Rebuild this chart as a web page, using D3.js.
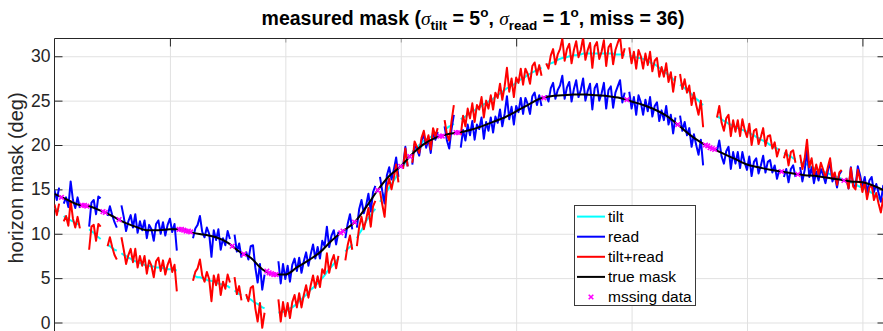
<!DOCTYPE html>
<html><head><meta charset="utf-8">
<script src="https://cdn.jsdelivr.net/npm/d3@7"></script>
<style>
html,body{margin:0;padding:0;background:#fff;}
svg{display:block;font-family:"Liberation Sans",Arial,Helvetica,sans-serif;}
</style></head><body>
<svg id="chart" width="883" height="331"></svg>
<script>
// ---------- data ----------
const azimuth = d3.range(0, 361);          // 1 deg steps
const trueAz = d3.range(0, 361, 5);        // true mask sampled every 5 deg
const trueVals = [14.5,13.9,13.3,13.1,12.6,12.0,11.3,10.8,10.4,10.4,10.5,10.5,10.1,9.9,9.6,9.0,8.0,7.3,6.0,5.4,
5.4,6.2,7.0,7.9,9.2,10.3,11.3,13.0,14.9,16.5,17.6,19.0,20.1,20.8,21.2,21.4,21.7,22.1,22.6,23.1,
23.8,24.5,25.2,25.5,25.6,25.7,25.7,25.6,25.5,25.3,24.9,24.5,24.0,23.3,22.3,21.2,20.3,19.6,19.0,18.4,
17.8,17.5,17.2,17.0,16.8,16.6,16.5,16.3,16.1,15.9,15.8,15.4,14.8];

const tiltVals = [12.9,12.7,12.5,null,12.0,11.8,11.7,11.5,11.4,11.2,
11.1,11.0,null,null,null,10.5,10.3,10.1,9.8,9.6,
9.4,null,null,8.8,8.6,8.4,8.2,8.1,null,7.8,
7.6,7.5,7.3,7.2,7.0,6.9,6.8,6.7,6.6,6.5,
6.4,6.4,6.3,6.3,6.2,6.2,6.2,6.1,6.1,6.0,
6.0,6.0,5.9,5.9,null,null,null,null,null,null,
5.3,5.2,5.1,5.1,5.0,4.9,4.8,4.7,4.7,4.6,
4.5,4.4,4.3,4.3,4.2,4.1,3.9,null,3.6,3.4,
3.2,3.1,null,2.8,2.7,2.6,2.4,2.2,2.1,1.9,
1.7,1.6,null,null,null,null,null,1.1,1.2,1.2,
1.2,1.4,1.6,1.7,1.9,2.1,2.4,2.6,2.9,3.1,
3.4,3.7,3.9,4.2,4.4,4.7,5.0,5.3,5.7,6.0,
6.3,6.6,6.9,7.2,null,null,8.0,8.3,8.5,8.8,
null,9.5,10.0,10.4,10.9,11.4,11.8,12.1,12.5,12.8,
null,13.6,14.0,14.4,14.8,15.2,15.6,16.0,16.4,16.8,
null,17.6,18.0,18.4,null,19.2,19.5,19.7,20.0,20.2,
20.5,20.6,20.8,20.9,21.1,21.2,21.3,null,null,21.8,
21.9,22.1,22.2,22.4,null,null,22.9,23.1,23.2,23.4,
23.6,23.8,23.9,24.1,24.2,24.4,24.6,24.7,24.9,25.0,
25.2,25.4,25.6,25.8,26.0,26.2,26.4,26.5,26.7,26.8,
27.0,27.2,27.4,27.5,27.7,27.9,28.0,28.2,28.3,28.5,
28.6,28.7,null,29.0,29.1,29.2,29.3,29.4,29.6,29.7,
29.8,29.9,29.9,30.0,30.0,30.1,30.1,30.2,30.2,30.3,
30.3,30.3,30.3,30.3,30.3,30.3,30.3,30.3,30.3,30.3,
30.3,30.3,30.3,30.2,30.2,30.2,30.2,30.1,null,30.0,
30.0,29.9,29.9,29.8,29.8,29.7,29.6,29.5,29.3,29.2,
29.1,28.9,28.7,28.5,28.3,28.1,27.9,27.7,27.4,27.2,
null,26.8,26.6,26.4,26.2,26.0,25.7,25.5,25.2,25.0,
24.7,24.5,null,null,null,null,null,23.2,23.1,22.9,
22.7,22.6,22.4,22.3,22.1,22.0,21.9,21.8,21.7,21.6,
21.5,21.4,21.2,21.1,20.9,20.8,20.6,20.5,20.3,20.2,
20.0,19.9,19.7,19.6,19.4,null,19.1,19.0,18.8,18.7,
18.5,18.4,null,18.1,18.0,17.9,17.8,17.7,17.5,17.4,
17.3,17.2,17.1,17.0,16.9,16.8,16.7,16.6,16.5,16.4,
16.3,16.2,null,16.0,15.9,15.8,15.7,15.6,15.4,15.3,
15.2,15.1,14.9,14.8,14.6,14.5,14.3,14.0,13.8,13.5,13.3];

const readVals = [14.9,13.8,15.2,null,13.4,14.1,13.0,15.9,13.8,12.9,
14.1,12.9,null,null,null,10.8,13.5,13.8,12.2,14.2,
14.0,null,null,12.0,13.1,12.1,11.3,10.7,null,13.2,
11.9,10.3,11.4,12.1,10.7,12.2,10.1,11.4,10.4,11.5,
9.5,11.0,10.5,9.2,11.1,11.5,10.0,11.3,9.8,11.0,
11.7,10.2,11.1,8.1,null,null,null,null,null,null,
9.5,10.6,11.0,12.0,10.2,9.6,10.7,10.0,7.4,10.4,
9.3,10.5,8.2,9.5,8.7,10.3,9.4,null,9.9,8.0,
8.9,7.3,null,8.0,7.1,8.6,8.7,6.2,4.5,6.6,
3.7,5.4,null,null,null,null,null,6.9,4.4,6.6,
4.9,6.4,4.6,6.5,7.2,5.8,7.3,5.6,6.9,7.9,
6.4,7.7,8.8,7.2,8.5,7.2,9.2,8.6,10.8,8.5,
9.8,10.4,8.8,10.2,null,null,9.5,11.1,12.2,10.5,
null,10.7,12.8,13.8,12.3,13.2,14.5,12.5,14.7,15.4,
null,16.4,14.8,13.4,16.6,17.5,16.1,17.2,18.6,16.4,
null,17.6,19.8,17.6,null,17.8,20.1,19.5,18.8,20.5,
21.2,19.7,20.7,19.1,21.5,20.6,21.5,null,null,22.1,
20.5,19.6,21.8,23.4,null,null,19.7,21.7,20.5,22.3,
21.1,22.7,20.6,22.3,21.8,23.1,20.7,22.6,21.6,23.1,
21.4,23.2,22.5,24.0,22.1,23.5,25.5,22.9,24.3,22.3,
24.4,23.7,25.3,23.5,25.3,24.6,23.5,25.5,25.9,24.5,
25.6,24.4,null,25.6,24.9,26.4,27.0,25.2,26.2,26.7,
27.8,25.2,26.5,27.1,24.9,26.3,27.3,25.4,26.2,27.5,
25.0,26.1,26.9,24.0,26.4,26.9,25.0,25.8,27.0,24.1,
26.2,26.6,24.2,25.9,26.6,27.3,24.8,25.9,null,26.0,
24.1,25.4,23.4,25.6,24.8,23.4,25.1,23.8,25.4,23.2,
24.4,24.8,22.7,23.9,22.8,24.4,22.3,23.4,21.3,23.1,
null,23.3,21.6,22.6,21.1,21.9,19.8,21.2,20.0,18.9,
20.6,17.7,null,null,null,null,null,19.3,20.5,18.7,
17.9,19.3,19.8,17.3,19.2,17.9,19.2,17.4,19.2,18.0,
17.2,18.7,16.5,18.1,18.5,16.8,17.7,18.8,16.9,18.1,
18.3,16.9,17.7,16.2,17.2,null,16.4,17.3,15.8,17.3,
17.7,16.4,null,17.5,15.9,17.2,19.4,16.4,17.5,15.7,
17.0,16.0,17.3,16.6,15.7,17.0,18.1,15.9,16.6,15.2,
16.7,17.1,null,16.3,15.1,17.5,15.5,15.3,17.6,16.6,
15.3,16.4,14.6,16.0,16.4,14.7,15.6,14.6,13.6,15.4,14.5];

const tiltReadVals = [13.3,12.1,13.4,null,11.4,12.0,10.9,13.7,11.7,10.7,
11.9,10.6,null,null,null,8.2,10.8,11.0,9.2,11.1,
10.8,null,null,8.6,9.6,8.5,7.6,7.1,null,9.6,
8.2,6.6,7.6,8.3,6.8,8.3,6.2,7.5,6.4,7.5,
5.5,7.0,6.4,5.1,6.9,7.3,5.8,7.0,5.4,6.5,
7.2,5.7,6.5,3.5,null,null,null,null,null,null,
4.7,5.7,6.1,7.1,5.3,4.6,5.7,4.9,2.4,5.3,
4.2,5.4,3.1,4.6,3.8,5.4,4.5,null,5.1,3.2,
4.1,2.5,null,3.2,2.4,3.9,4.1,1.6,0.1,2.2,
-0.6,1.1,null,null,null,null,null,2.6,0.1,2.3,
0.7,2.2,0.5,2.3,3.1,1.7,3.3,1.7,3.1,4.2,
2.8,4.2,5.3,3.9,5.2,4.0,6.0,5.5,7.8,5.6,
6.9,7.6,6.1,7.5,null,null,7.0,8.7,9.8,8.2,
null,8.6,10.8,11.9,10.5,11.6,12.9,10.8,13.1,13.7,
null,14.8,13.3,11.9,15.2,16.2,15.0,16.3,17.8,15.8,
null,17.3,19.6,17.6,null,18.0,20.4,19.8,19.1,20.8,
21.6,20.1,21.1,19.5,21.9,21.0,21.9,null,null,22.8,
21.2,20.5,22.7,24.5,null,null,21.1,23.3,22.1,24.1,
23.0,24.7,22.6,24.5,24.0,25.4,23.1,25.0,24.1,25.6,
24.0,25.9,25.3,26.9,25.1,26.6,28.7,26.0,27.5,25.4,
27.6,27.0,28.6,26.8,28.6,28.0,26.9,28.9,29.3,27.9,
29.0,27.8,null,29.2,28.6,30.1,30.8,29.1,30.2,30.8,
32.0,29.5,30.8,31.4,29.2,30.7,31.7,29.9,30.7,32.1,
29.6,30.7,31.5,28.7,31.1,31.6,29.7,30.5,31.8,28.9,
31.0,31.4,29.1,30.7,31.5,32.2,29.8,30.9,null,31.0,
29.2,30.5,28.6,30.7,30.0,28.6,30.3,29.0,30.5,28.3,
29.5,29.8,27.7,28.8,27.7,29.2,27.1,28.2,26.0,27.8,
null,28.0,26.3,27.4,25.9,26.7,24.5,25.9,24.5,23.4,
25.0,22.0,null,null,null,null,null,23.1,24.4,22.5,
21.6,23.0,23.4,21.0,22.8,21.5,22.8,21.0,22.9,21.7,
20.9,22.4,20.0,21.6,21.8,20.1,20.9,21.9,19.9,21.0,
21.1,19.6,20.3,18.7,19.6,null,18.5,19.4,17.7,19.2,
19.4,18.0,null,18.9,17.3,18.5,20.6,17.5,18.5,16.6,
17.8,16.7,18.0,17.2,16.3,17.5,18.5,16.3,16.9,15.5,
16.9,17.2,null,16.3,15.1,17.4,15.3,15.0,17.2,16.1,
14.7,15.8,13.9,15.2,15.5,13.8,14.6,13.4,12.4,14.0,13.0];

const missingAz = [3,12,13,14,21,22,28,54,55,56,57,58,59,77,82,92,93,94,95,96,124,125,130,140,150,154,167,168,174,175,212,248,270,282,283,284,285,286,315,322,342];
const missingVals = [14.1,13.2,13.2,13.1,12.5,12.4,11.6,10.5,10.5,10.4,10.3,10.3,10.2,8.6,7.7,5.8,5.6,5.5,5.4,5.4,10.1,10.3,11.3,14.9,17.6,18.7,21.0,21.0,21.4,21.4,25.3,25.1,22.3,20.0,19.9,19.7,19.6,19.5,17.0,16.7,16.0];

const yTickVals = [0,5,10,15,20,25,30];
const xGridVals = [50,100,150,200,250,300,350];
const xMajorVals = [50,200,350];
const legendLabels = ["tilt","read","tilt+read","true mask","mssing data"];
const seriesColors = ["#00ffff","#0000ff","#ff0000","#000000","#ff00ff"];

[tiltVals, readVals, tiltReadVals].forEach(a => { if (a.length !== 361) throw new Error("bad length " + a.length); });
if (trueVals.length !== trueAz.length) throw new Error("true length " + trueVals.length);
if (missingAz.length !== missingVals.length) throw new Error("missing length");

// ---------- layout ----------
const svg = d3.select("#chart");
const pL = 54.5, pR = 885.5, pT = 38.5, pB = 345;
const x = d3.scaleLinear().domain([0, 360]).range([pL, pR]);
const y = d3.scaleLinear().domain([0, 32]).range([322.5, pT]);
const axisColor = "#262626";

svg.append("rect").attr("width", 883).attr("height", 331).attr("fill", "#fff");

// grid
const grid = svg.append("g");
grid.append("g").attr("transform", `translate(${pL},0)`)
  .call(d3.axisLeft(y).tickValues(yTickVals).tickSizeInner(-(pR - pL)).tickSizeOuter(0).tickFormat(""))
  .call(g => g.select(".domain").remove())
  .call(g => g.selectAll("line").attr("stroke", "#e1e1e1").attr("stroke-width", 1));
grid.append("g").attr("transform", `translate(0,${pT})`)
  .call(d3.axisTop(x).tickValues(xGridVals).tickSizeInner(-(pB - pT)).tickSizeOuter(0).tickFormat(""))
  .call(g => g.select(".domain").remove())
  .call(g => g.selectAll("line").attr("stroke", "#e1e1e1").attr("stroke-width", 1));

// axes (box)
const yAxisL = svg.append("g").attr("transform", `translate(${pL},0)`)
  .call(d3.axisLeft(y).tickValues(yTickVals).tickSizeInner(-8).tickSizeOuter(0).tickPadding(4))
  .call(g => g.select(".domain").remove());
yAxisL.selectAll("line").attr("stroke", axisColor);
yAxisL.selectAll("text").attr("font-size", 17.5).attr("fill", axisColor)
  .attr("font-family", "'Liberation Sans', Arial, sans-serif");

svg.append("g").attr("transform", `translate(${pR},0)`)
  .call(d3.axisRight(y).tickValues(yTickVals).tickSizeInner(-8).tickSizeOuter(0).tickFormat(""))
  .call(g => g.select(".domain").remove())
  .call(g => g.selectAll("line").attr("stroke", axisColor));

svg.append("g").attr("transform", `translate(0,${pT})`)
  .call(d3.axisTop(x).tickValues(xMajorVals).tickSizeInner(-8).tickSizeOuter(0).tickFormat(""))
  .call(g => g.select(".domain").remove())
  .call(g => g.selectAll("line").attr("stroke", axisColor));
svg.append("g").attr("transform", `translate(0,${pT})`)
  .call(d3.axisTop(x).tickValues(xGridVals.filter(v => !xMajorVals.includes(v))).tickSizeInner(-4).tickSizeOuter(0).tickFormat(""))
  .call(g => g.select(".domain").remove())
  .call(g => g.selectAll("line").attr("stroke", "#9a9a9a"));

svg.append("line").attr("x1", pL).attr("x2", pR).attr("y1", pT).attr("y2", pT)
  .attr("stroke", axisColor).attr("stroke-width", 1);
svg.append("line").attr("x1", pL).attr("x2", pL).attr("y1", pT).attr("y2", pB)
  .attr("stroke", axisColor).attr("stroke-width", 1);
svg.append("line").attr("x1", pR).attr("x2", pR).attr("y1", pT).attr("y2", pB)
  .attr("stroke", axisColor).attr("stroke-width", 1);

// clip
svg.append("defs").append("clipPath").attr("id", "plotclip")
  .append("rect").attr("x", pL).attr("y", pT).attr("width", pR - pL).attr("height", pB - pT);
const plot = svg.append("g").attr("clip-path", "url(#plotclip)");

const lineGen = d3.line().defined(d => d[1] !== null).x(d => x(d[0])).y(d => y(d[1]));
const series = [
  {vals: tiltVals, color: seriesColors[0]},
  {vals: readVals, color: seriesColors[1]},
  {vals: tiltReadVals, color: seriesColors[2]}
];
series.forEach(s => {
  plot.append("path").datum(azimuth.map((a, i) => [a, s.vals[i]]))
    .attr("d", lineGen).attr("fill", "none").attr("stroke", s.color)
    .attr("stroke-width", 2).attr("stroke-linejoin", "round");
});
plot.append("path").datum(trueAz.map((a, i) => [a, trueVals[i]]))
  .attr("d", d3.line().x(d => x(d[0])).y(d => y(d[1])).curve(d3.curveMonotoneX))
  .attr("fill", "none").attr("stroke", seriesColors[3]).attr("stroke-width", 2);

const xMark = s => `M${-s},${-s}L${s},${s}M${-s},${s}L${s},${-s}`;
plot.selectAll("path.miss").data(missingAz.map((a, i) => [a, missingVals[i]])).enter()
  .append("path").attr("class", "miss")
  .attr("transform", d => `translate(${x(d[0])},${y(d[1])})`)
  .attr("d", xMark(2.3)).attr("stroke", seriesColors[4]).attr("stroke-width", 1.6).attr("fill", "none");

// title
const title = svg.append("text").attr("x", 473).attr("y", 25).attr("text-anchor", "middle")
  .attr("font-size", 19.5).attr("font-weight", "bold").attr("fill", "#000");
title.append("tspan").text("measured mask (");
title.append("tspan").attr("font-style", "italic").attr("font-family", "'Liberation Serif', serif").attr("font-weight", "normal").text("σ");
title.append("tspan").attr("font-size", 13.5).attr("dy", 5).text("tilt");
title.append("tspan").attr("dy", -5).text(" = 5");
title.append("tspan").attr("font-size", 13.5).attr("dy", -8).text("o");
title.append("tspan").attr("dy", 8).text(", ");
title.append("tspan").attr("font-style", "italic").attr("font-family", "'Liberation Serif', serif").attr("font-weight", "normal").text("σ");
title.append("tspan").attr("font-size", 13.5).attr("dy", 5).text("read");
title.append("tspan").attr("dy", -5).text(" = 1");
title.append("tspan").attr("font-size", 13.5).attr("dy", -8).text("o");
title.append("tspan").attr("dy", 8).text(", miss = 36)");

// y label
svg.append("text").attr("transform", "translate(22.5,178) rotate(-90)").attr("text-anchor", "middle")
  .attr("font-size", 20).attr("fill", axisColor).text("horizon mask (deg)");

// legend
const lg = svg.append("g");
lg.append("rect").attr("x", 574.5).attr("y", 205.5).attr("width", 121).attr("height", 100)
  .attr("fill", "#fff").attr("stroke", "#3a3a3a").attr("stroke-width", 1);
legendLabels.forEach((lab, i) => {
  const cy = 216.6 + i * 20.1;
  if (i < 4) {
    lg.append("line").attr("x1", 577).attr("x2", 605).attr("y1", cy).attr("y2", cy)
      .attr("stroke", seriesColors[i]).attr("stroke-width", 2);
  } else {
    lg.append("path").attr("transform", `translate(591,${cy})`).attr("d", xMark(2.3))
      .attr("stroke", seriesColors[4]).attr("stroke-width", 1.6);
  }
  lg.append("text").attr("x", 608).attr("y", cy).attr("dy", "0.35em")
    .attr("font-size", 15.5).attr("fill", "#000").text(lab);
});
</script>
</body></html>
